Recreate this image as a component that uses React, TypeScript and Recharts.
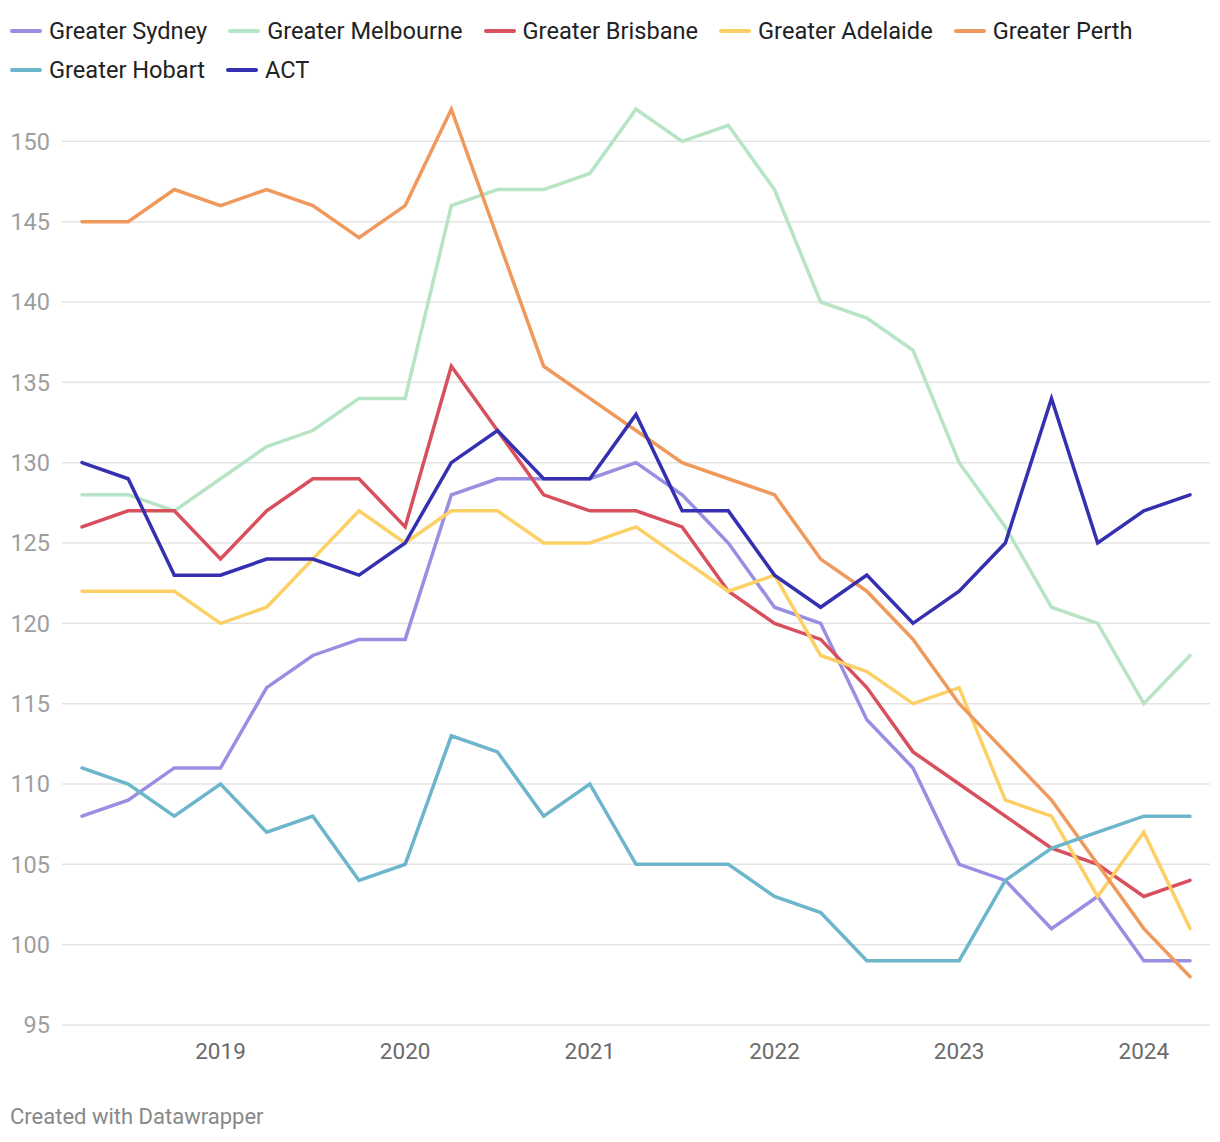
import { CartesianGrid, Line, LineChart, XAxis, YAxis } from "recharts";

// quarterly, 2018 Q2 .. 2024 Q2
const quarters = [
  "2018 Q2", "2018 Q3", "2018 Q4",
  "2019 Q1", "2019 Q2", "2019 Q3", "2019 Q4",
  "2020 Q1", "2020 Q2", "2020 Q3", "2020 Q4",
  "2021 Q1", "2021 Q2", "2021 Q3", "2021 Q4",
  "2022 Q1", "2022 Q2", "2022 Q3", "2022 Q4",
  "2023 Q1", "2023 Q2", "2023 Q3", "2023 Q4",
  "2024 Q1", "2024 Q2",
];

const sydney = [108, 109, 111, 111, 116, 118, 119, 119, 128, 129, 129, 129, 130, 128, 125, 121, 120, 114, 111, 105, 104, 101, 103, 99, 99];
const melbourne = [128, 128, 127, 129, 131, 132, 134, 134, 146, 147, 147, 148, 152, 150, 151, 147, 140, 139, 137, 130, 126, 121, 120, 115, 118];
const brisbane = [126, 127, 127, 124, 127, 129, 129, 126, 136, 132, 128, 127, 127, 126, 122, 120, 119, 116, 112, 110, 108, 106, 105, 103, 104];
const adelaide = [122, 122, 122, 120, 121, 124, 127, 125, 127, 127, 125, 125, 126, 124, 122, 123, 118, 117, 115, 116, 109, 108, 103, 107, 101];
const perth = [145, 145, 147, 146, 147, 146, 144, 146, 152, 144, 136, 134, 132, 130, 129, 128, 124, 122, 119, 115, 112, 109, 105, 101, 98];
const hobart = [111, 110, 108, 110, 107, 108, 104, 105, 113, 112, 108, 110, 105, 105, 105, 103, 102, 99, 99, 99, 104, 106, 107, 108, 108];
const act = [130, 129, 123, 123, 124, 124, 123, 125, 130, 132, 129, 129, 133, 127, 127, 123, 121, 123, 120, 122, 125, 134, 125, 127, 128];

const yMin = 95;
const yMax = 155;
const yTicks = [95, 100, 105, 110, 115, 120, 125, 130, 135, 140, 145, 150];
const yearTicks = [3, 7, 11, 15, 19, 23];

const series = [
  { key: "sydney", name: "Greater Sydney", color: "#998fe2", values: sydney },
  { key: "melbourne", name: "Greater Melbourne", color: "#b6e4c4", values: melbourne },
  { key: "brisbane", name: "Greater Brisbane", color: "#d8505e", values: brisbane },
  { key: "adelaide", name: "Greater Adelaide", color: "#fdd066", values: adelaide },
  { key: "perth", name: "Greater Perth", color: "#f0995c", values: perth },
  { key: "hobart", name: "Greater Hobart", color: "#6cb5ca", values: hobart },
  { key: "act", name: "ACT", color: "#3430b0", values: act },
];

const data = quarters.map((q, i) => {
  const row: Record<string, number | string> = { i, q };
  series.forEach((s) => {
    row[s.key] = s.values[i];
  });
  return row;
});

const font = "Roboto, 'Noto Sans', sans-serif";

function Legend() {
  return (
    <div
      style={{
        position: "absolute",
        left: 10,
        top: 17,
        width: 1200,
        display: "flex",
        flexWrap: "wrap",
        columnGap: 21,
        rowGap: 11,
        fontFamily: font,
        fontSize: 23.6,
        lineHeight: "28px",
        color: "#222",
        zIndex: 2,
      }}
    >
      {series.map((s) => (
        <div key={s.key} style={{ display: "flex", alignItems: "center" }}>
          <span
            style={{
              display: "inline-block",
              width: 32,
              height: 4,
              borderRadius: 2,
              background: s.color,
              marginRight: 7,
            }}
          />
          <span>{s.name}</span>
        </div>
      ))}
    </div>
  );
}

// grid only at the labelled ticks (no line at the domain top)
const gridRows = ({ offset }: any) =>
  yTicks.map((t) => offset.top + ((yMax - t) / (yMax - yMin)) * offset.height);

export default function App() {
  return (
    <div style={{ position: "relative", width: 1220, height: 1142, background: "#fff" }}>
      <style>{"body{margin:0}"}</style>
      <Legend />
      <div style={{ position: "absolute", left: 0, top: 0 }}>
        <LineChart
          width={1220}
          height={1142}
          data={data}
          margin={{ top: 61, right: 10, bottom: 77, left: 10 }}
        >
          <CartesianGrid
            vertical={false}
            stroke="#e4e4e4"
            strokeWidth={1.5}
            horizontalCoordinatesGenerator={gridRows}
          />
          <XAxis
            dataKey="i"
            type="number"
            domain={[0, 24]}
            ticks={yearTicks}
            tickFormatter={(v: number) => quarters[v].slice(0, 4)}
            padding={{ left: 20, right: 20 }}
            axisLine={false}
            tickLine={false}
            tickSize={0}
            tickMargin={18}
            height={40}
            tick={{ fill: "#6b6b6b", fontSize: 22.5, fontFamily: font }}
          />
          <YAxis
            domain={[yMin, yMax]}
            ticks={yTicks}
            axisLine={false}
            tickLine={false}
            tickSize={0}
            tickMargin={12}
            width={52}
            tick={{ fill: "#9e9e9e", fontSize: 23.5, fontFamily: font }}
          />
          {series.map((s) => (
            <Line
              key={s.key}
              dataKey={s.key}
              name={s.name}
              type="linear"
              stroke={s.color}
              strokeWidth={3.5}
              strokeLinecap="round"
              dot={false}
              activeDot={false}
              isAnimationActive={false}
            />
          ))}
        </LineChart>
      </div>
      <div
        style={{
          position: "absolute",
          left: 10,
          top: 1106,
          fontFamily: font,
          fontSize: 22,
          lineHeight: "22px",
          color: "#888",
        }}
      >
        Created with Datawrapper
      </div>
    </div>
  );
}
